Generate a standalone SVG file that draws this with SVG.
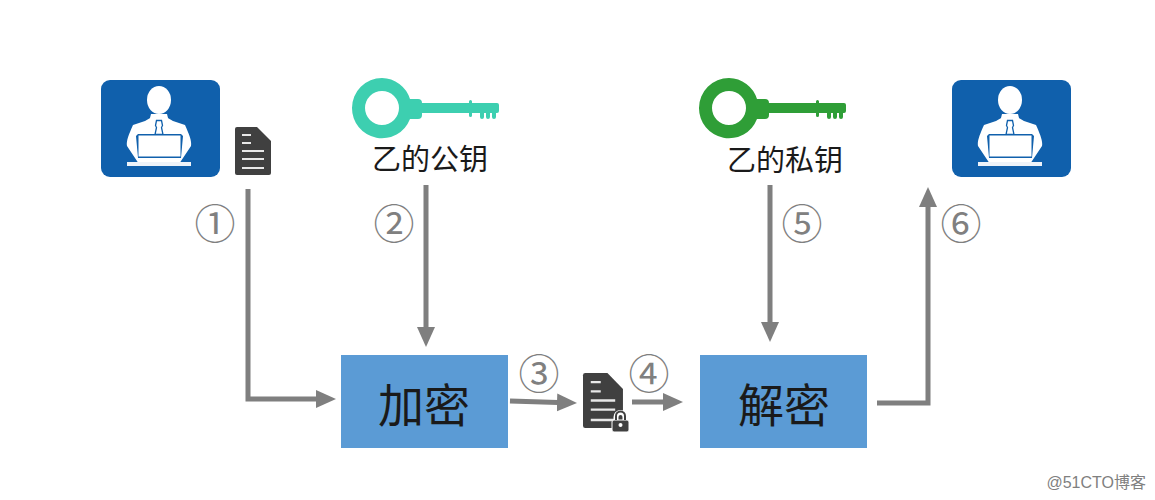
<svg xmlns="http://www.w3.org/2000/svg" width="1155" height="500" viewBox="0 0 1155 500">
<style>
.cn{font-family:"Noto Sans CJK SC","Liberation Sans",sans-serif;fill:#1a1a1a}
.num{font-family:"Noto Sans CJK SC","DejaVu Sans",sans-serif;font-size:41px;fill:#808080;text-anchor:middle}
.c{fill:none;stroke:#7f7f7f;stroke-width:5}
.box{fill:#5b9bd5}
.doc{fill:#404040}
.dl{stroke:#e8e8e8;stroke-width:2;fill:none}
</style>
<defs>
<marker id="a" markerUnits="userSpaceOnUse" markerWidth="20" markerHeight="20" refX="1" refY="10" orient="auto"><path d="M0 1L20 10L0 19Z" fill="#7f7f7f"/></marker>
<g id="person">
<rect x="0" y="0" width="119" height="97" rx="9" fill="#1060ac"/>
<ellipse cx="58" cy="20" rx="12" ry="14" fill="#fff"/>
<path d="M50 34h16l1 4H49Z" fill="#fff"/>
<path d="M44 41L50 37.500H66L72 41L84 45C88 54 91 61 90 66L78 84H38L26 66C25 61 28 54 32 45Z" fill="#fff"/>
<path d="M55.500 40.500h5l1 5-1 2 1.500 7h-8l1.500-7-1-2Z" fill="#fff" stroke="#1060ac" stroke-width="1.300"/>
<path d="M37 54h43l2 2-2 22H37l-2-22Z" fill="#1060ac"/>
<rect x="37.500" y="55.500" width="42" height="21" fill="#fff"/>
<rect x="42" y="78" width="33" height="5" fill="#fff"/>
<rect x="26" y="82" width="64" height="4" fill="#eef3f9"/>
</g>
<g id="doc">
<path d="M0 2a2 2 0 0 1 2-2H22L36 14V46a2 2 0 0 1-2 2H2a2 2 0 0 1-2-2Z" class="doc"/>
<path d="M7 8h9M7 16h9M7 24h22M7 32h22M7 41h22" class="dl"/>
</g>
<g id="key">
<path fill-rule="evenodd" d="M30 0A30 30 0 0 1 58 21H66a4 4 0 0 1 4 4V25H117V23.500a1.500 1.500 0 0 1 3 0V25H145a2 2 0 0 1 2 2V33a2 2 0 0 1-2 2H144V39a2 2 0 0 1-4 0V35H138V39a2 2 0 0 1-4 0V35H132V39a2 2 0 0 1-4 0V35H120V37.500a1.500 1.500 0 0 1-3 0V35H70V37a4 4 0 0 1-4 4H58A30 30 0 0 1 0 30A30 30 0 0 1 30 0ZM30 13A17 17 0 1 0 30 47A17 17 0 1 0 30 13Z"/>
</g>
</defs>
<rect width="1155" height="500" fill="#fff"/>
<g id="connectors">
<path class="c" marker-end="url(#a)" d="M248 189V399H317"/>
<path class="c" marker-end="url(#a)" d="M426 185V328"/>
<path class="c" marker-end="url(#a)" d="M510 401L558 402.500"/>
<path class="c" marker-end="url(#a)" d="M632 402H664"/>
<path class="c" marker-end="url(#a)" d="M770 185V323"/>
<path class="c" marker-end="url(#a)" d="M877 403H928V206"/>
</g>
<g id="sender"><use href="#person" x="101" y="80"/></g>
<g id="document"><use href="#doc" x="235" y="127"/></g>
<g id="public-key"><use href="#key" x="352" y="78" fill="#3dcfb0"/><text class="cn" x="430" y="170" font-size="29" text-anchor="middle">乙的公钥</text></g>
<g id="private-key"><use href="#key" x="699" y="78" fill="#2f9e37"/><text class="cn" x="785" y="171" font-size="29" text-anchor="middle">乙的私钥</text></g>
<g id="receiver"><use href="#person" x="952" y="80"/></g>
<g id="encrypt"><rect class="box" x="341" y="355" width="167" height="93"/><text class="cn" x="424" y="422" font-size="46" text-anchor="middle">加密</text></g>
<g id="decrypt"><rect class="box" x="700" y="355" width="167" height="93"/><text class="cn" x="784" y="422" font-size="46" text-anchor="middle">解密</text></g>
<g id="locked-document"><use href="#doc" transform="translate(583 373) scale(1.110 1.146)"/>
<path d="M616 422v-5a4.500 4.500 0 0 1 9 0v5" fill="none" stroke="#fff" stroke-width="5"/>
<rect x="612" y="420" width="17" height="12" rx="2" fill="#404040" stroke="#fff"/><path d="M616 420v-4a4.500 4.500 0 0 1 9 0v4" fill="none" stroke="#404040" stroke-width="2"/><circle cx="620.500" cy="425" r="2" fill="#fff"/>
</g>
<g id="steps">
<text class="num" x="215" y="239">①</text>
<text class="num" x="394" y="239">②</text>
<text class="num" x="539" y="389">③</text>
<text class="num" x="649" y="389">④</text>
<text class="num" x="802" y="239">⑤</text>
<text class="num" x="961" y="239">⑥</text>
</g>
<text x="1146" y="488" font-family="'Liberation Sans','Noto Sans CJK SC',sans-serif" font-size="16" fill="#808080" text-anchor="end">@51CTO博客</text>
</svg>
